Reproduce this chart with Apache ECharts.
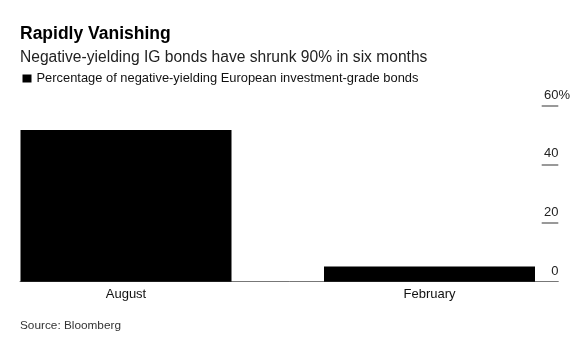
<!DOCTYPE html>
<html>
<head>
<meta charset="utf-8">
<script src="https://cdn.jsdelivr.net/npm/echarts@6/dist/echarts.min.js"></script>
<style>
html,body{margin:0;padding:0;background:#fff;}
#chart{width:580px;height:346px;}
</style>
</head>
<body>
<div id="chart"></div>
<script>
var categories = ['August', 'February'];
var seriesName = 'Percentage of negative-yielding European investment-grade bonds';
var values = [51.7, 5.2];
var yTicks = [0, 20, 40, 60];

var FONT = '"Liberation Sans", Arial, sans-serif';
var chart = echarts.init(document.getElementById('chart'), null, {renderer: 'canvas'});
var gridTop = 105.7, gridBottom = 346 - 281.7;
chart.setOption({
  backgroundColor: '#fff',
  animation: false,
  title: [
    {text: 'Rapidly Vanishing', left: 20, top: 25.5, padding: 0,
     textStyle: {fontFamily: FONT, fontSize: 17.5, fontWeight: 'bold', color: '#000'}},
    {text: 'Negative-yielding IG bonds have shrunk 90% in six months', left: 20, top: 49.5, padding: 0,
     textStyle: {fontFamily: FONT, fontSize: 15.6, fontWeight: 'normal', color: '#222'}},
    {text: 'Source: Bloomberg', left: 20, top: 320, padding: 0,
     textStyle: {fontFamily: FONT, fontSize: 11.8, fontWeight: 'normal', color: '#333'}}
  ],
  legend: {
    left: 22.5, top: 72, padding: 0, icon: 'rect', itemWidth: 9, itemHeight: 8,
    textStyle: {fontFamily: FONT, fontSize: 12.9, color: '#111'},
    data: [seriesName]
  },
  grid: [
    {left: -25.75, right: -1.25, top: gridTop, bottom: gridBottom, outerBoundsMode: 'none', containLabel: false},
    {left: 20, right: 21.7, top: gridTop, bottom: gridBottom, outerBoundsMode: 'none', containLabel: false}
  ],
  xAxis: [
    {type: 'category', gridIndex: 0, data: categories,
     axisLine: {show: false}, axisTick: {show: false},
     axisLabel: {fontFamily: FONT, fontSize: 13, color: '#111', margin: 6}},
    {type: 'category', gridIndex: 1, data: categories,
     axisLine: {show: true, lineStyle: {color: '#777', width: 1}},
     axisTick: {show: false}, axisLabel: {show: false}}
  ],
  yAxis: [
    {type: 'value', gridIndex: 0, min: 0, max: 60, interval: 20, show: false},
    {type: 'value', gridIndex: 1, position: 'right', min: 0, max: 60, interval: 20,
     axisLine: {show: false},
     axisTick: {show: true, inside: true, length: 16.6, customValues: yTicks.slice(1),
                lineStyle: {color: '#999', width: 2}},
     splitLine: {show: false},
     axisLabel: {
       fontFamily: FONT, fontSize: 13, color: '#222', align: 'right', margin: 11.7,
       verticalAlign: 'bottom', padding: [0, 0, 4, 0], showMaxLabel: true,
       customValues: yTicks,
       formatter: function (v) {
         return yTicks.indexOf(v) === yTicks.length - 1 ? v + '%' : v + '{h|%}';
       },
       rich: {h: {fontFamily: FONT, fontSize: 13, color: 'rgba(0,0,0,0)'}}
     }}
  ],
  series: [{
    name: seriesName, type: 'bar', xAxisIndex: 0, yAxisIndex: 0,
    data: values, barWidth: 211,
    itemStyle: {color: '#000'}
  }]
});
</script>
</body>
</html>
